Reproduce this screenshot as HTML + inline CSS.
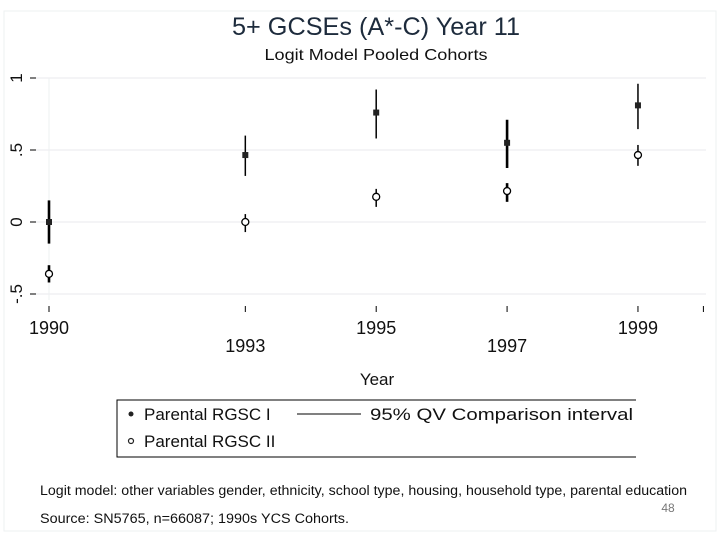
<!DOCTYPE html>
<html><head><meta charset="utf-8"><style>
body{margin:0;background:#fff;width:720px;height:540px;overflow:hidden;font-family:"Liberation Sans",sans-serif}
</style></head><body>
<svg width="720" height="540" xmlns="http://www.w3.org/2000/svg" font-family="Liberation Sans, sans-serif">
<rect x="4" y="11" width="712" height="520" fill="none" stroke="#eef0f2" stroke-width="1"/>
<text x="376" y="35" font-size="25" text-anchor="middle" textLength="288" lengthAdjust="spacingAndGlyphs" fill="#1d2b3c">5+ GCSEs (A*-C) Year 11</text>
<text x="376" y="60" font-size="16" text-anchor="middle" textLength="223" lengthAdjust="spacingAndGlyphs" fill="#111">Logit Model Pooled Cohorts</text>
<g id="grid"></g>
<g id="yaxis"></g>
<g id="xaxis"></g>
<g id="marks"></g>
<text x="377" y="385" font-size="17" text-anchor="middle" fill="#111">Year</text>
<g>
<path d="M636 400 H117 V457 H636" fill="none" stroke="#000" stroke-width="1"/>
<circle cx="131" cy="414" r="2.5" fill="#222"/>
<text x="144" y="420" font-size="17" fill="#111">Parental RGSC I</text>
<line x1="297" y1="414" x2="361" y2="414" stroke="#000" stroke-width="1"/>
<text x="370" y="420" font-size="17" textLength="263" lengthAdjust="spacingAndGlyphs" fill="#111">95% QV Comparison interval</text>
<circle cx="131" cy="441" r="2.5" fill="#fff" stroke="#222" stroke-width="1.2"/>
<text x="144" y="447" font-size="17" fill="#111">Parental RGSC II</text>
</g>
<text x="40" y="495" font-size="13.5" textLength="647" lengthAdjust="spacingAndGlyphs" fill="#111">Logit model: other variables gender, ethnicity, school type, housing, household type, parental education</text>
<text x="40" y="523" font-size="13.5" textLength="309" lengthAdjust="spacingAndGlyphs" fill="#111">Source: SN5765, n=66087; 1990s YCS Cohorts.</text>
<text x="668" y="512" font-size="12" text-anchor="middle" fill="#777">48</text>
</svg>
<script>
const years=[1990,1993,1995,1997,1999];
const s1=[0,0.465,0.76,0.55,0.81];
const s1lo=[-0.15,0.32,0.58,0.375,0.645];
const s1hi=[0.15,0.6,0.92,0.71,0.96];
const s2=[-0.36,0,0.175,0.215,0.465];
const s2lo=[-0.42,-0.07,0.105,0.14,0.39];
const s2hi=[-0.3,0.055,0.23,0.27,0.535];
const thick=[true,false,false,true,false];
const yTicks=[-0.5,0,0.5,1];
const yTickLabels=["-.5","0",".5","1"];
const xTicks=[1990,1993,1995,1997,1999,2000];
const xTickLabels=["1990","1993","1995","1997","1999",""];
const NS="http://www.w3.org/2000/svg";
const X=v=>49+(v-1990)*65.44;
const Y=v=>222-v*144;
function mk(p,t,a){const e=document.createElementNS(NS,t);for(const k in a)e.setAttribute(k,a[k]);document.getElementById(p).appendChild(e);return e;}
yTicks.forEach((t,i)=>{
  const g=mk('grid','line',{x1:36,x2:706,y1:Y(t),y2:Y(t),stroke:'#e8eaec','stroke-width':1});
  
  
  const tk=mk('yaxis','line',{x1:30,x2:36,y1:Y(t),y2:Y(t),stroke:'#000','stroke-width':1});
  
  
  const tx=mk('yaxis','text',{x:0,y:0,'font-size':17,'text-anchor':'middle',fill:'#111',transform:`translate(22,${Y(t)}) rotate(-90)`});
  tx.textContent=yTickLabels[i];
  
  
});
mk('grid','line',{x1:49,x2:49,y1:78,y2:300,stroke:'#eef0f2','stroke-width':1});
xTicks.forEach((t,i)=>{
  const tk=mk('xaxis','line',{x1:X(t),x2:X(t),y1:306,y2:312,stroke:'#000','stroke-width':1});
  
  
  const low=(i===1||i===3);
  const tx=mk('xaxis','text',{x:X(t),y:low?352:334,'font-size':18,'text-anchor':'middle',fill:'#111'});
  tx.textContent=xTickLabels[i];
  
  
});
years.forEach((yr,i)=>{
  const sw=thick[i]?2.6:1.5;
  const l1=mk('marks','line',{x1:X(yr),x2:X(yr),y1:Y(s1lo[i]),y2:Y(s1hi[i]),stroke:'#000','stroke-width':sw});
  
  
  const l2=mk('marks','line',{x1:X(yr),x2:X(yr),y1:Y(s2lo[i]),y2:Y(s2hi[i]),stroke:'#000','stroke-width':sw});
  
  
  const p1=mk('marks','rect',{x:X(yr)-3,y:Y(s1[i])-3,width:6,height:6,fill:'#222'});
  
  
  const p2=mk('marks','circle',{cx:X(yr),cy:Y(s2[i]),r:3.5,fill:'#fff',stroke:'#000','stroke-width':1.3});
  
  
});
</script>
</body></html>
